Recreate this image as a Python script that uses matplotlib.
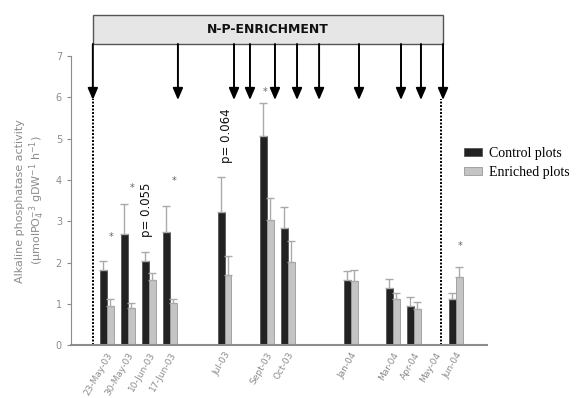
import matplotlib.pyplot as plt
import matplotlib.transforms as mtransforms
from matplotlib.patches import Rectangle

# sampling dates (category slots on the x axis)
dates = ['23-May-03', '30-May-03', '10-Jun-03', '17-Jun-03', 'Jul-03', 'Sept-03',
         'Oct-03', 'Jan-04', 'Mar-04', 'Apr-04', 'May-04', 'Jun-04']
x_pos = [0, 1, 2, 3, 5.6, 7.6, 8.6, 11.6, 13.6, 14.6, 15.6, 16.6]

control = [1.83, 2.70, 2.03, 2.75, 3.22, 5.07, 2.84, 1.58, 1.38, 0.94, 0.0, 1.12]
control_err = [0.20, 0.72, 0.22, 0.63, 0.85, 0.80, 0.51, 0.21, 0.22, 0.23, 0.0, 0.14]
enriched = [0.95, 0.91, 1.57, 1.01, 1.70, 3.03, 2.02, 1.56, 1.12, 0.88, 0.0, 1.65]
enriched_err = [0.17, 0.11, 0.17, 0.11, 0.45, 0.54, 0.51, 0.26, 0.13, 0.17, 0.0, 0.23]

# significance marks
star_x = [0.2, 1.2, 3.2, 7.55, 16.8]
star_y = [2.62, 3.80, 3.98, 6.12, 2.40]
pval_x = [1.9, 5.7]
pval_y = [2.62, 4.4]
pval_txt = ['p= 0.055', 'p= 0.064']

# N-P enrichment dates (arrows)
enrich_x = [-0.67, 3.38, 6.05, 6.81, 8.0, 9.05, 10.1, 12.0, 14.0, 14.95, 16.0]

fig = plt.figure(figsize=(5.82, 3.98), dpi=100)
ax = fig.add_axes([0.122, 0.133, 0.715, 0.726])

w = 0.33
gray = '#8c8c8c'
ax.bar([x - w / 2 for x in x_pos], control, w, color='#222222', edgecolor='#555555', linewidth=0.6,
       yerr=[[0] * len(control), control_err], error_kw=dict(ecolor='#aaaaaa', capsize=3, elinewidth=1, capthick=1),
       label='Control plots')
ax.bar([x + w / 2 for x in x_pos], enriched, w, color='#c4c4c4', edgecolor='#999999', linewidth=0.6,
       yerr=[[0] * len(enriched), enriched_err], error_kw=dict(ecolor='#aaaaaa', capsize=3, elinewidth=1, capthick=1),
       label='Enriched plots')

for sx, sy in zip(star_x, star_y):
    ax.text(sx, sy, '*', ha='center', va='center', fontsize=7, color='#666666')
for px, py, t in zip(pval_x, pval_y, pval_txt):
    ax.text(px, py, t, rotation=90, ha='center', va='bottom', fontsize=8.5, color='#111111')

ax.set_xlim(-1.71, 18.1)
ax.set_ylim(0, 7)
ax.set_yticks(range(8))
ax.set_xticks(x_pos)
ax.set_xticklabels(dates, rotation=60, ha='right', va='top', rotation_mode='anchor', fontsize=6.5, color=gray)
ax.tick_params(axis='y', labelsize=7, colors=gray, length=3)
ax.tick_params(axis='x', length=0, pad=4)
for s in ['top', 'right']:
    ax.spines[s].set_visible(False)
ax.spines['left'].set_color(gray)
ax.spines['bottom'].set_color(gray)
ax.spines['bottom'].set_linewidth(1.5)
ax.set_ylabel('Alkaline phosphatase activity\n(µmolPO$_4^{-3}$ gDW$^{-1}$ h$^{-1}$)', fontsize=8, color=gray,
              labelpad=6)

# enrichment box and arrows, x in data units, y in figure units
trans = mtransforms.blended_transform_factory(ax.transData, fig.transFigure)
box_top, box_bot, tip = 1 - 15 / 398, 1 - 44 / 398, 1 - 100 / 398
ax.add_patch(Rectangle((enrich_x[0], box_bot), enrich_x[-1] - enrich_x[0], box_top - box_bot,
                       transform=trans, facecolor='#e6e6e6', edgecolor='#555555', linewidth=1, clip_on=False))
ax.text((enrich_x[0] + enrich_x[-1]) / 2, (box_top + box_bot) / 2, 'N-P-ENRICHMENT', transform=trans,
        ha='center', va='center', fontsize=9, fontweight='bold', color='#111111')
for ex in enrich_x:
    ax.annotate('', xy=(ex, tip), xytext=(ex, box_bot), xycoords=trans, textcoords=trans,
                arrowprops=dict(arrowstyle='-|>,head_width=0.3,head_length=0.7', color='black', lw=1.4,
                                shrinkA=0, shrinkB=0), annotation_clip=False)

# dotted lines marking the enrichment period
for ex in [enrich_x[0], enrich_x[-1] - 0.1]:
    ax.plot([ex, ex], [0, 5.95], color='black', linestyle=(0, (1, 0.8)), linewidth=1.4, clip_on=False)

fig.legend(loc='upper left', bbox_to_anchor=(0.775, 0.662), frameon=False, handlelength=1.3, handleheight=0.5,
           prop={'family': 'Liberation Serif', 'size': 10}, labelspacing=0.45, handletextpad=0.5)

fig.savefig('out.png', dpi=100)
